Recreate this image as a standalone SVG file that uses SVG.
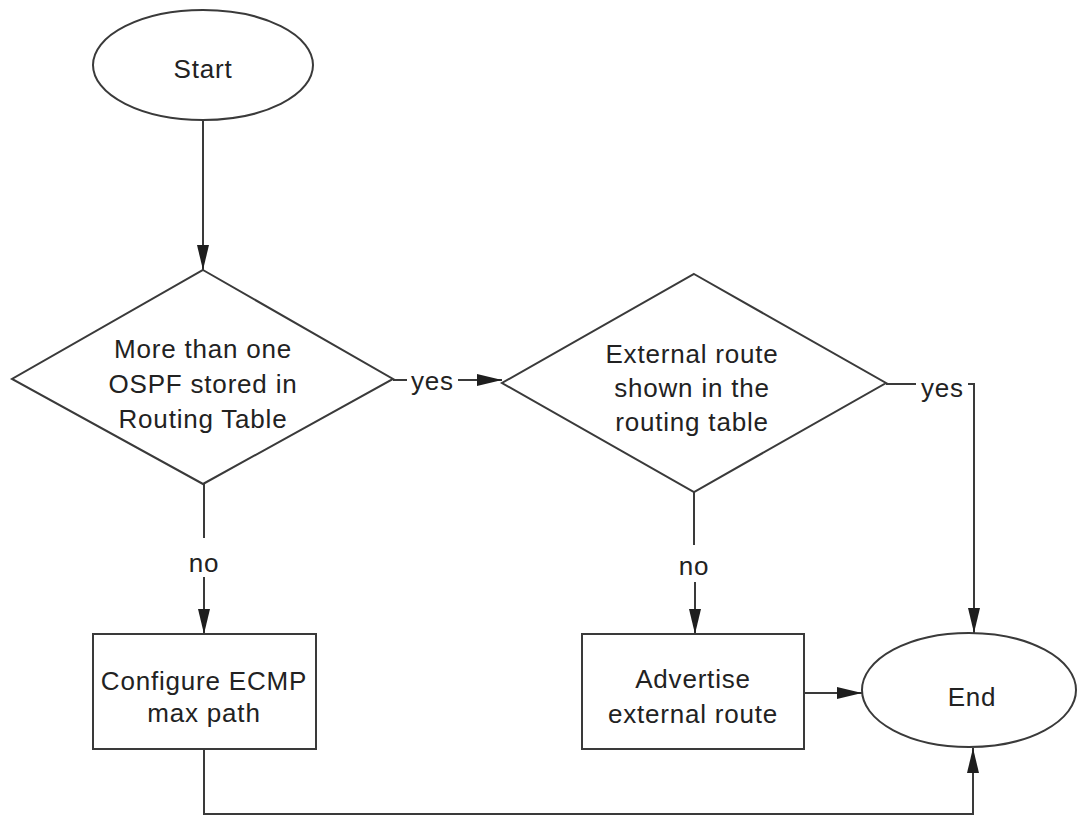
<svg xmlns="http://www.w3.org/2000/svg" width="1077" height="817" viewBox="0 0 1077 817">
  <defs>
    <style>
      .shape { fill: #ffffff; stroke: #3a3a3a; stroke-width: 2; }
      .edge { fill: none; stroke: #3a3a3a; stroke-width: 2; }
      .label { font-family: "Liberation Sans", Arial, sans-serif; font-size: 26px; letter-spacing: 0.8px; fill: #222222; text-anchor: middle; }
      .tag { font-family: "Liberation Sans", Arial, sans-serif; font-size: 26px; letter-spacing: 0.8px; fill: #222222; }
    </style>
    <marker id="arrow" markerUnits="userSpaceOnUse" markerWidth="26" markerHeight="14" refX="25" refY="6" orient="auto">
      <path d="M0,0 L25,6 L0,12 Z" fill="#1e1e1e"/>
    </marker>
  </defs>
  <rect width="1077" height="817" fill="#ffffff"/>

  <!-- connectors -->
  <g id="connectors">
    <path class="edge" d="M203 120 V270" marker-end="url(#arrow)"/>
    <path class="edge" d="M393 380 H407"/>
    <text class="tag" x="411" y="390">yes</text>
    <path class="edge" d="M458 380 H502" marker-end="url(#arrow)"/>
    <path class="edge" d="M886 384 H916"/>
    <text class="tag" x="921" y="397">yes</text>
    <path class="edge" d="M968 384 H974 V633" marker-end="url(#arrow)"/>
    <path class="edge" d="M204 484 V538"/>
    <text class="label" x="204" y="572">no</text>
    <path class="edge" d="M204 577 V634" marker-end="url(#arrow)"/>
    <path class="edge" d="M694 492 V545"/>
    <text class="label" x="694" y="575">no</text>
    <path class="edge" d="M695 582 V634" marker-end="url(#arrow)"/>
    <path class="edge" d="M804 693 H862" marker-end="url(#arrow)"/>
    <path class="edge" d="M204 749 V814 H973 V748" marker-end="url(#arrow)"/>
  </g>

  <g id="start">
    <ellipse class="shape" cx="203" cy="65" rx="110" ry="55"/>
    <text class="label" x="203" y="78">Start</text>
  </g>

  <g id="check-ospf">
    <polygon class="shape" points="203,270 393,379 203,484 12,379"/>
    <text class="label" x="203" y="358">More than one</text>
    <text class="label" x="203" y="393">OSPF stored in</text>
    <text class="label" x="203" y="428">Routing Table</text>
  </g>

  <g id="check-external">
    <polygon class="shape" points="694,274 886,383 694,492 502,383"/>
    <text class="label" x="692" y="363">External route</text>
    <text class="label" x="692" y="397">shown in the</text>
    <text class="label" x="692" y="431">routing table</text>
  </g>

  <g id="configure-ecmp">
    <rect class="shape" x="93" y="634" width="223" height="115"/>
    <text class="label" x="204" y="690">Configure ECMP</text>
    <text class="label" x="204" y="722">max path</text>
  </g>

  <g id="advertise-route">
    <rect class="shape" x="582" y="634" width="222" height="115"/>
    <text class="label" x="693" y="688">Advertise</text>
    <text class="label" x="693" y="723">external route</text>
  </g>

  <g id="end">
    <ellipse class="shape" cx="969" cy="690" rx="107" ry="57"/>
    <text class="label" x="972" y="706">End</text>
  </g>
</svg>
